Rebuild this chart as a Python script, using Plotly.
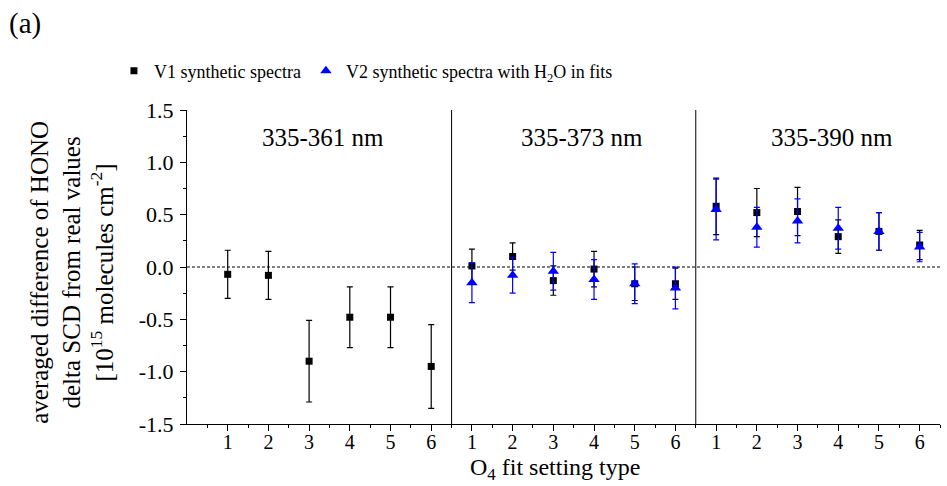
import plotly.graph_objects as go

# O4 fit setting types, repeated within each fit window
settings = [1, 2, 3, 4, 5, 6]
windows = ["335-361 nm", "335-373 nm", "335-390 nm"]

# V1 synthetic spectra: mean difference and its error, per fit window
v1_335_361 = [-0.07, -0.08, -0.90, -0.48, -0.48, -0.95]
v1_335_361_err = [0.23, 0.23, 0.39, 0.29, 0.29, 0.40]
v1_335_373 = [0.01, 0.10, -0.13, -0.02, -0.16, -0.16]
v1_335_373_err = [0.16, 0.13, 0.14, 0.17, 0.16, 0.15]
v1_335_390 = [0.58, 0.52, 0.53, 0.29, 0.34, 0.21]
v1_335_390_err = [0.27, 0.23, 0.23, 0.16, 0.18, 0.14]

# V2 synthetic spectra with H2O included in the fits
v2_335_373 = [-0.15, -0.08, -0.04, -0.12, -0.16, -0.20]
v2_335_373_err = [0.19, 0.17, 0.18, 0.19, 0.19, 0.20]
v2_335_390 = [0.55, 0.38, 0.44, 0.37, 0.34, 0.19]
v2_335_390_err = [0.29, 0.19, 0.21, 0.20, 0.18, 0.14]

y_ticks = [-1.5, -1.0, -0.5, 0.0, 0.5, 1.0, 1.5]
y_tick_text = ["-1.5", "-1.0", "-0.5", "0.0", "0.5", "1.0", "1.5"]

FONT = "Liberation Serif, Times New Roman, serif"
BLUE = "#0000ff"

n_set = len(settings)


def positions(window_index):
    """Place each window's settings side by side on one shared axis."""
    return [s + n_set * window_index for s in settings]


x_v1 = positions(0) + positions(1) + positions(2)
y_v1 = v1_335_361 + v1_335_373 + v1_335_390
e_v1 = v1_335_361_err + v1_335_373_err + v1_335_390_err

x_v2 = positions(1) + positions(2)
y_v2 = v2_335_373 + v2_335_390
e_v2 = v2_335_373_err + v2_335_390_err

x_max = n_set * len(windows) + 0.5

fig = go.Figure()

fig.add_trace(go.Scatter(
    x=x_v1, y=y_v1, mode="markers", name="V1 synthetic spectra",
    marker=dict(symbol="square", size=7, color="black"),
    error_y=dict(type="data", array=e_v1, visible=True,
                 color="black", thickness=1.2, width=3),
))
fig.add_trace(go.Scatter(
    x=x_v2, y=y_v2, mode="markers",
    name="V2 synthetic spectra with H<sub>2</sub>O in fits",
    marker=dict(symbol="triangle-up", size=10, color=BLUE),
    error_y=dict(type="data", array=e_v2, visible=True,
                 color=BLUE, thickness=1.2, width=3),
))

# zero reference line
fig.add_shape(type="line", xref="x", yref="y", x0=0, x1=x_max, y0=0, y1=0,
              line=dict(color="black", width=1, dash="3px,2px"), layer="below")

# separators between the fit windows
for k in range(1, len(windows)):
    xs = n_set * k + 0.5
    fig.add_shape(type="line", xref="x", yref="y", x0=xs, x1=xs,
                  y0=-1.5, y1=1.535, line=dict(color="black", width=1))

# fit window labels
label_x = [3.35, 9.7, 15.85]
for name, lx in zip(windows, label_x):
    fig.add_annotation(x=lx, y=1.235, xref="x", yref="y", text=name,
                       showarrow=False, font=dict(family=FONT, size=25, color="black"),
                       xanchor="center", yanchor="middle")

# panel tag
fig.add_annotation(x=-0.215, y=1.274, xref="paper", yref="paper", text="(a)",
                   showarrow=False, font=dict(family=FONT, size=29, color="black"),
                   xanchor="center", yanchor="middle")

# axis titles
fig.add_annotation(x=-0.153, y=0.484, xref="paper", yref="paper",
                   text=("averaged difference of HONO<br>delta SCD from real values<br>"
                         "[10<sup>15</sup> molecules cm<sup>-2</sup>]"),
                   textangle=-90, showarrow=False,
                   font=dict(family=FONT, size=25, color="black"),
                   xanchor="center", yanchor="middle")
fig.add_annotation(x=0.489, y=-0.143, xref="paper", yref="paper",
                   text="O<sub>4</sub> fit setting type", showarrow=False,
                   font=dict(family=FONT, size=24, color="black"),
                   xanchor="center", yanchor="middle")

tick_vals = x_v1
tick_text = [str(s) for s in settings] * len(windows)
minor_vals = [v - 0.5 for v in tick_vals] + [x_max]

fig.update_xaxes(
    range=[0, x_max], showline=True, linecolor="black", linewidth=1,
    ticks="outside", ticklen=6, tickwidth=1, tickcolor="black",
    tickmode="array", tickvals=tick_vals, ticktext=tick_text,
    ticklabelstandoff=-6,
    minor=dict(tickmode="array", tickvals=minor_vals, ticks="outside",
               ticklen=3, tickwidth=1, tickcolor="black"),
    showgrid=False, zeroline=False,
    tickfont=dict(family=FONT, size=20, color="black"),
)
fig.update_yaxes(
    range=[-1.5, 1.5], showline=True, linecolor="black", linewidth=1,
    ticks="outside", ticklen=6, tickwidth=1, tickcolor="black",
    tickmode="array", tickvals=y_ticks, ticktext=y_tick_text,
    ticklabelstandoff=2,
    minor=dict(tickmode="linear", tick0=-1.5, dtick=0.25, ticks="outside",
               ticklen=3, tickwidth=1, tickcolor="black"),
    showgrid=False, zeroline=False,
    tickfont=dict(family=FONT, size=22, color="black"),
)

fig.update_layout(
    width=947, height=486,
    margin=dict(l=187, r=7, t=110, b=62),
    plot_bgcolor="white", paper_bgcolor="white",
    font=dict(family=FONT, color="black"),
    showlegend=True,
    legend=dict(orientation="h", x=-0.097, y=1.124, xanchor="left", yanchor="middle",
                font=dict(family=FONT, size=18, color="black"),
                bgcolor="rgba(0,0,0,0)", itemwidth=30),
)

fig.write_html("out.html")
